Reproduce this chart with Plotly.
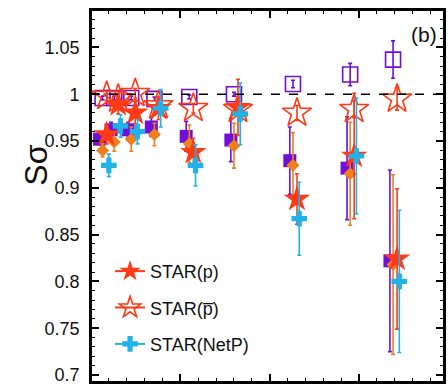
import plotly.graph_objects as go

# x: <Npart> of the centrality classes
npart = [13, 26, 45, 71, 110, 160, 226, 290, 338]

# S*sigma values and errors
purple_fill = [0.952, 0.962, 0.962, 0.965, 0.955, 0.951, 0.929, 0.921, 0.822]
purple_fill_err = [0.006, 0.008, 0.008, 0.010, 0.016, 0.023, 0.036, 0.055, 0.097]
purple_open = [0.996, 0.996, 0.996, 0.995, 0.997, 1.000, 1.011, 1.021, 1.037]
purple_open_err = [0.002, 0.002, 0.002, 0.002, 0.002, 0.002, 0.004, 0.012, 0.020]
orange = [0.940, 0.949, 0.952, 0.957, 0.947, 0.945, 0.924, 0.915, 0.818]
orange_err = [0.007, 0.010, 0.013, 0.012, 0.020, 0.024, 0.035, 0.055, 0.096]
star_p = [0.957, 0.989, 0.980, 0.985, 0.938, 0.986, 0.888, 0.934, 0.824]
star_p_err = [0.010, 0.010, 0.012, 0.012, 0.015, 0.030, 0.027, 0.067, 0.075]
star_pbar = [0.998, 0.995, 1.001, 0.988, 0.985, 0.984, 0.980, 0.984, 0.995]
star_pbar_err = [0.005, 0.005, 0.005, 0.005, 0.005, 0.006, 0.008, 0.009, 0.012]
star_net = [0.924, 0.966, 0.960, 0.985, 0.924, 0.979, 0.867, 0.934, 0.800]
star_net_err = [0.012, 0.012, 0.013, 0.020, 0.022, 0.033, 0.039, 0.062, 0.076]

# small horizontal offsets per series (in Npart units) as in the figure
off_purple, off_orange, off_star, off_net = -3.5, 0.0, 4.5, 7.0

y_ticks = [0.7, 0.75, 0.8, 0.85, 0.9, 0.95, 1.0, 1.05]
y_ticktext = ["0.7", "0.75", "0.8", "0.85", "0.9", "0.95", "1", "1.05"]
ref_line = 1.0

RED = "#ff3a14"
PURPLE = "#6f0fd8"
ORANGE = "#f0801e"
CYAN = "#21b3e8"

def shift(xs, d):
    return [v + d for v in xs]

def err(arr, col, th=1.6):
    return dict(type="data", array=arr, color=col, thickness=th, width=2)

fig = go.Figure()
fig.add_trace(go.Scatter(x=shift(npart, off_purple), y=purple_fill, mode="markers",
                         marker=dict(symbol="square", size=13, color=PURPLE),
                         error_y=err(purple_fill_err, PURPLE), showlegend=False))
fig.add_trace(go.Scatter(x=npart, y=purple_open, mode="markers",
                         marker=dict(symbol="square-open", size=15, color=PURPLE, line=dict(width=1.6)),
                         error_y=err(purple_open_err, PURPLE), showlegend=False))
fig.add_trace(go.Scatter(x=shift(npart, off_orange), y=orange, mode="markers",
                         marker=dict(symbol="diamond", size=10, color=ORANGE),
                         error_y=err(orange_err, ORANGE), showlegend=False))
fig.add_trace(go.Scatter(x=shift(npart, off_star), y=star_pbar, mode="markers",
                         marker=dict(symbol="star-open", size=22, color=RED, line=dict(width=1.6)),
                         error_y=err(star_pbar_err, RED), showlegend=False))
fig.add_trace(go.Scatter(x=shift(npart, off_star), y=star_p, mode="markers",
                         marker=dict(symbol="star", size=20, color=RED),
                         error_y=err(star_p_err, RED), showlegend=False))
fig.add_trace(go.Scatter(x=shift(npart, off_net), y=star_net, mode="markers",
                         marker=dict(symbol="cross", size=13, color=CYAN, line=dict(width=0)),
                         error_y=err(star_net_err, CYAN), showlegend=False))

# legend entries (legend-only traces)
legend_items = [("STAR(p)", "star", 20, RED),
                ("STAR(p\u0305)", "star-open", 22, RED),
                ("STAR(NetP)", "cross", 13, CYAN)]
for i, (name, sym, sz, col) in enumerate(legend_items):
    fig.add_trace(go.Scatter(x=[None], y=[None], mode="lines+markers", name=name,
                             legendgroup=f"g{i}",
                             line=dict(color=col, width=2),
                             marker=dict(symbol=sym, size=sz, color=col,
                                         line=dict(width=1.6 if "open" in sym else 0))))

fig.add_shape(type="line", xref="paper", yref="y", x0=0, x1=1, y0=ref_line, y1=ref_line,
              line=dict(color="black", width=1.6, dash="dash"))
# plot frame
fig.add_shape(type="rect", xref="paper", yref="paper", x0=0, x1=1, y0=0, y1=1,
              line=dict(color="black", width=2), layer="above")

axis_common = dict(showline=True, linecolor="black", linewidth=1.6, mirror="ticks",
                   ticks="inside", ticklen=8, tickwidth=1.6, tickcolor="black",
                   showgrid=False, zeroline=False)

fig.update_xaxes(range=[0, 395], tickvals=[0, 100, 200, 300], showticklabels=False,
                 minor=dict(dtick=20, ticks="inside", ticklen=4, tickwidth=1.4, tickcolor="black"),
                 **axis_common)
fig.update_yaxes(range=[0.6925, 1.09], tickvals=y_ticks, ticktext=y_ticktext,
                 tickfont=dict(family="Liberation Sans, Arial", size=18, color="#111"),
                 ticklabelstandoff=6, ticklabeloverflow="allow",
                 minor=dict(dtick=0.01, tick0=0.7, ticks="inside", ticklen=4, tickwidth=1.4, tickcolor="black"),
                 **axis_common)

fig.add_annotation(text="Sσ", xref="paper", yref="paper", x=-0.156, y=0.584,
                   xanchor="center", yanchor="middle",
                   textangle=-90, showarrow=False,
                   font=dict(family="Liberation Sans, Arial", size=32, color="#111"))
fig.add_annotation(text="(b)", xref="paper", yref="paper", x=0.943, y=0.933,
                   xanchor="center", yanchor="middle",
                   showarrow=False,
                   font=dict(family="Liberation Sans, Arial", size=21, color="#111"))

fig.update_layout(
    width=448, height=385,
    margin=dict(l=91, r=4, t=10, b=0),
    paper_bgcolor="white", plot_bgcolor="white",
    legend=dict(x=0.054, y=0.347, xanchor="left", yanchor="top",
                bgcolor="rgba(0,0,0,0)", tracegroupgap=10,
                font=dict(family="Liberation Sans, Arial", size=18, color="#111")),
)

fig.write_html("out.html")
